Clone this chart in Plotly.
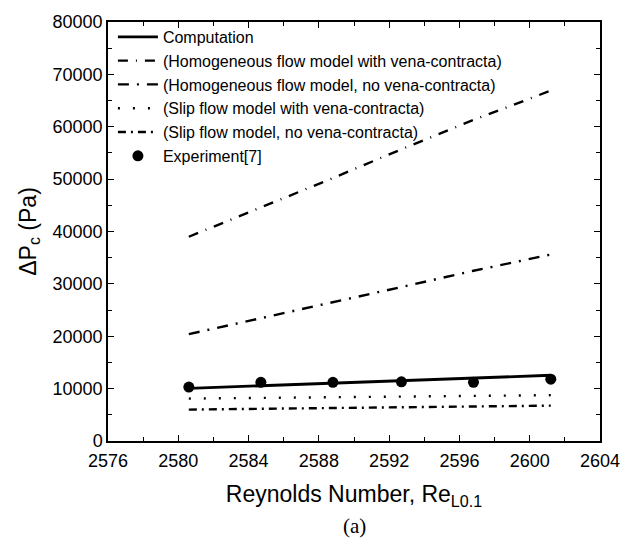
import plotly.graph_objects as go

# Reynolds numbers of the test cases
re_vals = [2580.6, 2584.7, 2588.8, 2592.7, 2596.8, 2601.2]

# Pressure drop (Pa) for each model
computation = [10050, 10550, 11050, 11550, 12050, 12550]
homog_vena = [39000, 44600, 50200, 55700, 61300, 66900]
homog_no_vena = [20400, 23400, 26400, 29400, 32500, 35600]
slip_vena = [8100, 8220, 8350, 8480, 8610, 8750]
slip_no_vena = [6000, 6150, 6300, 6450, 6600, 6750]
experiment = [10300, 11200, 11200, 11300, 11200, 11800]

series = [
    ("Computation", computation, "solid", 2.8),
    ("(Homogeneous flow model with vena-contracta)", homog_vena, "10px,8px,1px,8px", 2.4),
    ("(Homogeneous flow model, no vena-contracta)", homog_no_vena, "11px,8px,2px,8px", 2.4),
    ("(Slip flow model with vena-contracta)", slip_vena, "2px,13px", 2.4),
    ("(Slip flow model, no vena-contracta)", slip_no_vena, "8px,5px,2px,5px", 2.4),
]

FONT = "Liberation Sans, Arial, sans-serif"

fig = go.Figure()
for name, vals, dash, w in series:
    fig.add_trace(go.Scatter(
        x=re_vals, y=vals, mode="lines", name=name,
        line=dict(color="black", width=w, dash=dash),
    ))

fig.add_trace(go.Scatter(
    x=re_vals, y=experiment, mode="markers", name="Experiment[7]",
    marker=dict(color="black", size=11, symbol="circle"),
))

axis_common = dict(
    showgrid=False, zeroline=False, showline=True, linecolor="black", linewidth=1.5,
    mirror="allticks", ticks="inside", ticklen=6, tickwidth=1.2, tickcolor="black",
    tickfont=dict(family=FONT, size=18, color="black"),
)

fig.update_xaxes(
    range=[2576, 2604], tickvals=list(range(2576, 2605, 4)), tickformat="d",
    ticklabelstandoff=3,
    minor=dict(ticks="inside", ticklen=4, tickcolor="black", dtick=2, tick0=2576),
    title=dict(text="Reynolds Number, Re<sub>L0.1</sub>", standoff=16,
               font=dict(family=FONT, size=23, color="black")),
    **axis_common,
)
fig.update_yaxes(
    range=[0, 80000], tickvals=list(range(0, 80001, 10000)), tickformat="d",
    minor=dict(ticks="inside", ticklen=4, tickcolor="black", dtick=5000, tick0=0),
    title=dict(text="ΔP<sub>c</sub> (Pa)", standoff=10,
               font=dict(family=FONT, size=23, color="black")),
    **axis_common,
)

fig.add_annotation(
    text="(a)", xref="paper", yref="paper", x=0.502, y=-0.204,
    showarrow=False, yanchor="middle",
    font=dict(family="Liberation Serif, Times New Roman, serif", size=21, color="black"),
)

fig.update_layout(
    width=639, height=541,
    margin=dict(l=108, r=39, t=20, b=100),
    plot_bgcolor="white", paper_bgcolor="white",
    legend=dict(
        x=0.01, y=1.005, xanchor="left", yanchor="top",
        bgcolor="rgba(0,0,0,0)", borderwidth=0,
        font=dict(family=FONT, size=16, color="black"),
        tracegroupgap=0, itemwidth=40,
    ),
)

fig.write_html("out.html")
